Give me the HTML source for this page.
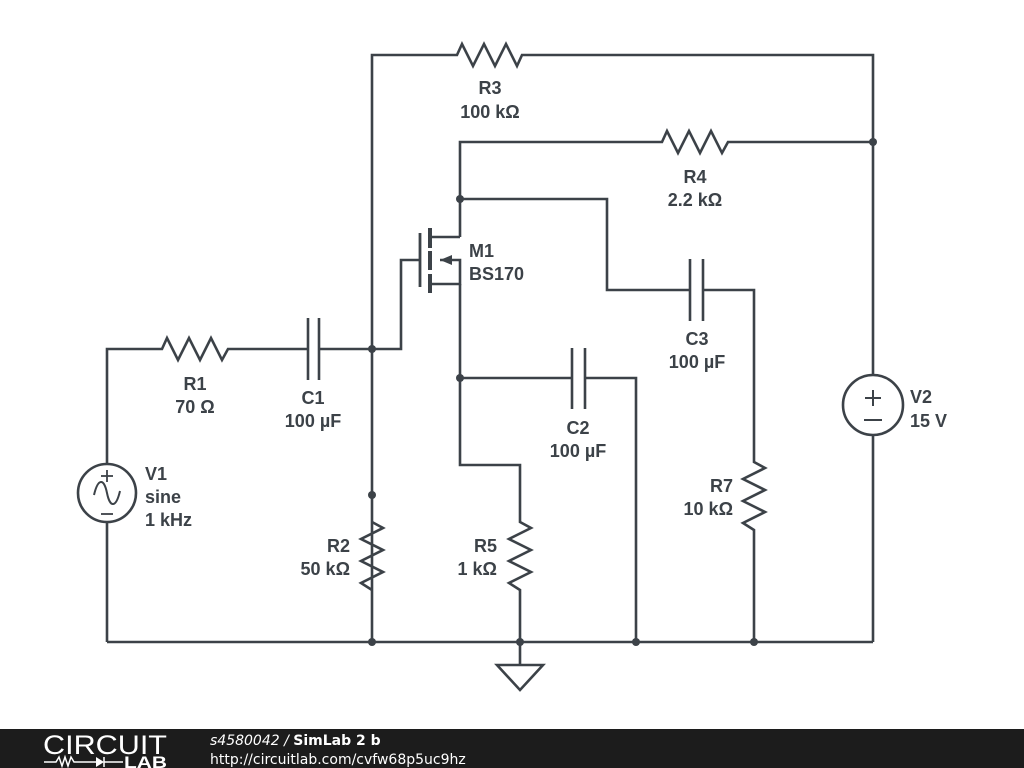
<!DOCTYPE html>
<html><head><meta charset="utf-8"><style>
html,body{margin:0;padding:0;background:#fff;width:1024px;height:768px;overflow:hidden}
svg{display:block}
text{font-family:"Liberation Sans",sans-serif;font-weight:bold;font-size:18px;fill:#3c4248}
</style></head><body>
<svg width="1024" height="768" viewBox="0 0 1024 768">
<g stroke="#3c4248" stroke-width="2.6" fill="none" stroke-linejoin="miter">
<polyline points="372,642 372,55 457,55 462,44 473,66 484,44 495,66 506,44 517,66 522,55 873,55 873,375"/>
<polyline points="460,237 460,142 662,142 667,131 678,153 689,131 700,153 711,131 722,153 728,142 873,142"/>
<polyline points="460,199 607,199 607,290 690,290"/>
<line x1="690" y1="259" x2="690" y2="321"/>
<line x1="703" y1="259" x2="703" y2="321"/>
<polyline points="703,290 754,290 754,462 765,468 743,479 765,490 743,501 765,512 743,523 754,530 754,642"/>
<polyline points="107,464 107,349 162,349 167,338 178,360 189,338 200,360 211,338 222,360 228,349 308,349"/>
<line x1="308" y1="318" x2="308" y2="380"/>
<line x1="319" y1="318" x2="319" y2="380"/>
<polyline points="319,349 401,349 401,260 420,260"/>
<line x1="107" y1="522" x2="107" y2="642"/>
<polyline points="372,522 383,528 361,539 383,550 361,561 383,572 361,583 372,590"/>
<line x1="420" y1="233" x2="420" y2="287" stroke-width="2.8"/>
<line x1="430" y1="228" x2="430" y2="248" stroke-width="4"/>
<line x1="430" y1="251" x2="430" y2="270" stroke-width="4"/>
<line x1="430" y1="274" x2="430" y2="293" stroke-width="4"/>
<polyline points="430,237 460,237"/>
<polyline points="440,260 460,260 460,284 430,284"/>
<polyline points="460,284 460,465 520,465 520,522 531,528 509,539 531,550 509,561 531,572 509,583 520,590 520,665"/>
<polyline points="460,378 572,378"/>
<line x1="572" y1="348" x2="572" y2="409"/>
<line x1="585" y1="348" x2="585" y2="409"/>
<polyline points="585,378 636,378 636,642"/>
<line x1="107" y1="642" x2="873" y2="642"/>
<line x1="873" y1="435" x2="873" y2="642"/>
<polygon points="497,665 543,665 520,690"/>
<circle cx="107" cy="493" r="29"/>
<path d="M94,495 C98,478 104,478 107,493 C110,508 116,508 120,491" stroke-width="2"/>
<line x1="107" y1="470" x2="107" y2="482" stroke-width="1.8"/>
<line x1="101" y1="476" x2="113" y2="476" stroke-width="1.8"/>
<line x1="101" y1="514" x2="113" y2="514" stroke-width="1.8"/>
<circle cx="873" cy="405" r="30"/>
<line x1="865" y1="398" x2="881" y2="398" stroke-width="2"/>
<line x1="873" y1="390" x2="873" y2="406" stroke-width="2"/>
<line x1="864" y1="420" x2="882" y2="420" stroke-width="2"/>
</g>
<polygon points="440,260 452,255 452,265" fill="#3c4248"/>
<g fill="#3c4248">
<circle cx="372" cy="349" r="4"/><circle cx="372" cy="495" r="4"/>
<circle cx="460" cy="199" r="4"/><circle cx="460" cy="378" r="4"/>
<circle cx="873" cy="142" r="4"/>
<circle cx="372" cy="642" r="4"/><circle cx="520" cy="642" r="4"/>
<circle cx="636" cy="642" r="4"/><circle cx="754" cy="642" r="4"/>
</g>
<text x="490" y="94" text-anchor="middle">R3</text>
<text x="490" y="118" text-anchor="middle">100 kΩ</text>
<text x="695" y="183" text-anchor="middle">R4</text>
<text x="695" y="206" text-anchor="middle">2.2 kΩ</text>
<text x="469" y="257">M1</text>
<text x="469" y="280">BS170</text>
<text x="697" y="345" text-anchor="middle">C3</text>
<text x="697" y="368" text-anchor="middle">100 µF</text>
<text x="195" y="390" text-anchor="middle">R1</text>
<text x="195" y="413" text-anchor="middle">70 Ω</text>
<text x="313" y="404" text-anchor="middle">C1</text>
<text x="313" y="427" text-anchor="middle">100 µF</text>
<text x="578" y="434" text-anchor="middle">C2</text>
<text x="578" y="457" text-anchor="middle">100 µF</text>
<text x="910" y="403">V2</text>
<text x="910" y="427">15 V</text>
<text x="145" y="480">V1</text>
<text x="145" y="503">sine</text>
<text x="145" y="526">1 kHz</text>
<text x="733" y="492" text-anchor="end">R7</text>
<text x="733" y="515" text-anchor="end">10 kΩ</text>
<text x="350" y="552" text-anchor="end">R2</text>
<text x="350" y="575" text-anchor="end">50 kΩ</text>
<text x="497" y="552" text-anchor="end">R5</text>
<text x="497" y="575" text-anchor="end">1 kΩ</text>
<rect x="0" y="729" width="1024" height="39" fill="#1c1c1c"/>
<text x="43" y="754" textLength="124" lengthAdjust="spacingAndGlyphs" style="font-weight:normal;font-size:27px;fill:#fff">CIRCUIT</text>
<g stroke="#fff" stroke-width="1.5" fill="none">
<polyline points="44,762 56,762 59,757 62,766 65,757 68,766 71,757 74,762 98,762"/>
<line x1="104" y1="757" x2="104" y2="767"/>
<line x1="104" y1="762" x2="123" y2="762"/>
</g>
<polygon points="96,757 96,767 104,762" fill="#fff"/>
<text x="124" y="768" textLength="43" lengthAdjust="spacingAndGlyphs" style="font-size:17px;fill:#fff">LAB</text>
<text x="210" y="745" style="font-family:'DejaVu Sans',sans-serif;font-weight:normal;font-style:italic;font-size:14px;fill:#fff">s4580042 / <tspan style="font-style:normal;font-weight:bold">SimLab 2 b</tspan></text>
<text x="210" y="764" style="font-family:'DejaVu Sans',sans-serif;font-weight:normal;font-size:14px;fill:#fff">http://circuitlab.com/cvfw68p5uc9hz</text>
</svg>
</body></html>
